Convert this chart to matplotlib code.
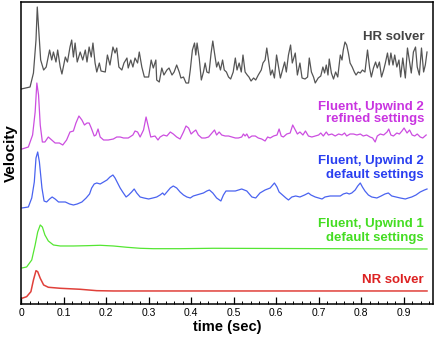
import matplotlib
matplotlib.use('Agg')
import matplotlib.pyplot as plt
from matplotlib.ticker import MultipleLocator

plt.rcParams['font.family'] = ['Liberation Sans', 'DejaVu Sans']

# HR solver (top trace)
hr_t = [0.000, 0.021, 0.029, 0.035, 0.038, 0.042, 0.046, 0.053, 0.059, 0.067,
        0.072, 0.076, 0.082, 0.086, 0.092, 0.096, 0.104, 0.109, 0.115, 0.119,
        0.123, 0.127, 0.132, 0.139, 0.145, 0.151, 0.155, 0.160, 0.165, 0.169,
        0.174, 0.178, 0.184, 0.188, 0.198, 0.203, 0.209, 0.216, 0.221, 0.225,
        0.230, 0.237, 0.242, 0.249, 0.252, 0.258, 0.263, 0.268, 0.274, 0.278,
        0.284, 0.290, 0.300, 0.306, 0.311, 0.317, 0.319, 0.325, 0.331, 0.336,
        0.343, 0.348, 0.355, 0.360, 0.366, 0.372, 0.376, 0.382, 0.388, 0.394,
        0.398, 0.403, 0.408, 0.411, 0.414, 0.419, 0.424, 0.429, 0.433, 0.437,
        0.442, 0.447, 0.451, 0.455, 0.460, 0.464, 0.469, 0.474, 0.478, 0.483,
        0.488, 0.493, 0.499, 0.504, 0.508, 0.513, 0.518, 0.522, 0.527, 0.532,
        0.536, 0.541, 0.547, 0.552, 0.558, 0.565, 0.569, 0.574, 0.578, 0.582,
        0.587, 0.591, 0.596, 0.601, 0.605, 0.610, 0.615, 0.620, 0.624, 0.629,
        0.634, 0.638, 0.645, 0.650, 0.656, 0.661, 0.668, 0.674, 0.678, 0.683,
        0.688, 0.692, 0.699, 0.705, 0.710, 0.714, 0.718, 0.722, 0.725, 0.730,
        0.735, 0.740, 0.745, 0.751, 0.755, 0.758, 0.762, 0.766, 0.770, 0.774,
        0.779, 0.784, 0.788, 0.793, 0.798, 0.803, 0.809, 0.815, 0.820, 0.824,
        0.829, 0.834, 0.838, 0.843, 0.848, 0.853, 0.857, 0.862, 0.866, 0.870,
        0.875, 0.879, 0.884, 0.889, 0.893, 0.898, 0.904, 0.909, 0.914, 0.918,
        0.923, 0.928, 0.932, 0.937, 0.942, 0.947, 0.951, 0.955]
hr_v = [215, 217, 231, 264, 297, 271, 244, 234, 237, 254,
        244, 252, 242, 254, 237, 230, 247, 242, 257, 264,
        247, 261, 242, 252, 244, 254, 242, 257, 247, 261,
        241, 232, 241, 233, 232, 249, 239, 257, 251, 256,
        237, 234, 241, 246, 236, 244, 237, 246, 241, 252,
        237, 227, 227, 244, 236, 244, 224, 222, 236, 229,
        234, 236, 229, 232, 239, 232, 226, 227, 221, 221,
        234, 254, 261, 249, 261, 246, 224, 232, 241, 232,
        231, 251, 263, 251, 237, 242, 234, 244, 234, 232,
        227, 225, 232, 246, 234, 241, 232, 249, 232, 229,
        227, 223, 226, 224, 229, 234, 241, 244, 256, 244,
        229, 234, 226, 249, 239, 226, 234, 242, 232, 249,
        259, 241, 251, 229, 241, 226, 225, 227, 246, 232,
        227, 221, 226, 228, 237, 231, 239, 229, 245, 231,
        225, 232, 227, 249, 244, 254, 262, 259, 251, 241,
        237, 232, 229, 232, 231, 234, 232, 254, 236, 227,
        236, 242, 236, 242, 227, 234, 241, 251, 239, 251,
        239, 249, 237, 244, 227, 246, 226, 256, 242, 231,
        252, 257, 237, 229, 256, 232, 239, 252]

# Fluent, Upwind 2, refined settings
ref_t = [0.002, 0.017, 0.027, 0.033, 0.037, 0.041, 0.045, 0.050, 0.056, 0.064,
         0.072, 0.080, 0.090, 0.098, 0.107, 0.115, 0.123, 0.129, 0.136, 0.143,
         0.149, 0.155, 0.160, 0.165, 0.172, 0.176, 0.181, 0.186, 0.194, 0.205,
         0.217, 0.225, 0.233, 0.241, 0.252, 0.263, 0.268, 0.274, 0.280, 0.288,
         0.294, 0.300, 0.305, 0.315, 0.322, 0.327, 0.335, 0.343, 0.351, 0.358,
         0.366, 0.374, 0.382, 0.388, 0.394, 0.400, 0.405, 0.411, 0.417, 0.425,
         0.433, 0.441, 0.449, 0.455, 0.460, 0.466, 0.472, 0.480, 0.488, 0.496,
         0.504, 0.511, 0.519, 0.523, 0.527, 0.531, 0.536, 0.543, 0.551, 0.558,
         0.566, 0.574, 0.580, 0.586, 0.594, 0.602, 0.607, 0.612, 0.617, 0.625,
         0.633, 0.639, 0.645, 0.650, 0.656, 0.663, 0.669, 0.676, 0.684, 0.692,
         0.700, 0.705, 0.711, 0.718, 0.723, 0.731, 0.739, 0.747, 0.755, 0.761,
         0.766, 0.774, 0.782, 0.790, 0.798, 0.805, 0.813, 0.821, 0.827, 0.833,
         0.838, 0.845, 0.853, 0.861, 0.865, 0.870, 0.876, 0.884, 0.890, 0.896,
         0.901, 0.908, 0.914, 0.920, 0.926, 0.932, 0.939, 0.945, 0.953]
ref_v = [155, 157, 169, 192, 221, 209, 179, 162, 162, 167,
         164, 161, 161, 159, 164, 172, 173, 181, 188, 184,
         179, 181, 181, 176, 168, 169, 175, 167, 164, 164,
         165, 167, 167, 166, 166, 169, 173, 172, 167, 174,
         187, 176, 167, 168, 164, 167, 169, 168, 172, 170,
         167, 165, 172, 178, 176, 170, 172, 174, 169, 166,
         166, 167, 171, 174, 169, 172, 169, 168, 168, 167,
         166, 166, 167, 170, 168, 170, 166, 168, 168, 166,
         165, 163, 167, 166, 168, 169, 175, 168, 167, 170,
         171, 179, 174, 170, 172, 169, 173, 168, 167, 168,
         169, 171, 168, 172, 169, 170, 168, 170, 169, 171,
         168, 170, 170, 169, 170, 168, 169, 167, 166, 162,
         168, 170, 169, 172, 175, 169, 168, 171, 170, 173,
         176, 171, 174, 169, 168, 170, 167, 166, 169]

# Fluent, Upwind 2, default settings
up2_t = [0.002, 0.017, 0.025, 0.031, 0.035, 0.039, 0.043, 0.049, 0.054, 0.060,
         0.067, 0.073, 0.080, 0.088, 0.096, 0.104, 0.114, 0.123, 0.132, 0.143,
         0.153, 0.161, 0.166, 0.172, 0.178, 0.186, 0.194, 0.202, 0.209, 0.216,
         0.221, 0.227, 0.233, 0.239, 0.247, 0.253, 0.260, 0.266, 0.272, 0.280,
         0.289, 0.300, 0.310, 0.319, 0.327, 0.333, 0.337, 0.343, 0.351, 0.358,
         0.366, 0.374, 0.382, 0.390, 0.398, 0.405, 0.413, 0.421, 0.429, 0.437,
         0.443, 0.451, 0.460, 0.470, 0.476, 0.482, 0.490, 0.504, 0.519, 0.531,
         0.543, 0.552, 0.562, 0.574, 0.586, 0.596, 0.602, 0.607, 0.615, 0.623,
         0.629, 0.637, 0.646, 0.656, 0.667, 0.676, 0.682, 0.692, 0.700, 0.708,
         0.715, 0.727, 0.739, 0.751, 0.758, 0.766, 0.772, 0.778, 0.786, 0.792,
         0.798, 0.803, 0.809, 0.817, 0.825, 0.837, 0.847, 0.856, 0.864, 0.872,
         0.882, 0.892, 0.904, 0.911, 0.919, 0.929, 0.939, 0.949, 0.955]
up2_v = [96, 97, 106, 122, 146, 152, 142, 116, 103, 102,
         105, 107, 105, 102, 102, 102, 100, 99, 100, 102,
         106, 110, 116, 120, 121, 120, 122, 124, 127, 129,
         126, 121, 116, 112, 107, 109, 112, 115, 111, 107,
         106, 105, 106, 107, 109, 111, 109, 112, 116, 118,
         116, 112, 109, 107, 106, 108, 109, 110, 111, 113,
         114, 111, 106, 103, 109, 113, 113, 113, 115, 113,
         107, 106, 111, 114, 116, 121, 117, 112, 109, 106,
         104, 107, 108, 107, 109, 111, 109, 107, 106, 105,
         107, 108, 108, 108, 110, 111, 110, 111, 114, 118,
         121, 117, 113, 109, 107, 106, 108, 110, 111, 108,
         107, 106, 105, 106, 107, 109, 112, 114, 115]

# Fluent, Upwind 1, default settings
up1_t = [0.002, 0.013, 0.025, 0.033, 0.039, 0.045, 0.050, 0.056, 0.064, 0.076,
         0.092, 0.123, 0.155, 0.186, 0.217, 0.249, 0.280, 0.311, 0.374, 0.452,
         0.600, 0.800, 0.955]
up1_v = [36, 37, 44, 59, 72, 79, 77, 69, 63, 59,
         58, 58, 58.3, 58.7, 58, 56.7, 55.7, 55.3, 55.3, 55.7,
         55.5, 55.2, 55]

# NR solver
nr_t = [0.002, 0.013, 0.023, 0.029, 0.035, 0.039, 0.045, 0.053, 0.064, 0.092,
        0.139, 0.178, 0.217, 0.468, 0.955]
nr_v = [5.7, 7.3, 12.3, 24, 33.3, 32.3, 25.7, 19, 16.7, 15.7,
        14.7, 13.3, 13, 13, 13]

fig = plt.figure(figsize=(4.4, 3.37), dpi=100)
ax = fig.add_axes([0.048, 0.098, 0.936, 0.896])

ax.plot(hr_t, hr_v, color='#555555', lw=0.9)
ax.plot(ref_t, ref_v, color='#cc4ee0', lw=0.9)
ax.plot(up2_t, up2_v, color='#4a63f0', lw=0.9)
ax.plot(up1_t, up1_v, color='#55e633', lw=0.9)
ax.plot(nr_t, nr_v, color='#e0403a', lw=1.1)

# labels on the right
lab = dict(ha='right', va='center', fontsize=9.5, fontweight='bold')
ax.text(0.948, 267, 'HR solver', color='#444444', **lab)
ax.text(0.948, 197, 'Fluent, Upwind 2', color='#c935e0', **lab)
ax.text(0.948, 185, 'refined settings', color='#c935e0', **lab)
ax.text(0.948, 143, 'Fluent, Upwind 2', color='#2a3ff0', **lab)
ax.text(0.948, 129, 'default settings', color='#2a3ff0', **lab)
ax.text(0.948, 80, 'Fluent, Upwind 1', color='#44dd22', **lab)
ax.text(0.948, 65.5, 'default settings', color='#44dd22', **lab)
ax.text(0.948, 24, 'NR solver', color='#dd2222', **lab)

ax.set_xlim(0, 0.969)
ax.set_ylim(0, 302)
ax.xaxis.set_major_locator(MultipleLocator(0.1))
ax.xaxis.set_minor_locator(MultipleLocator(0.02))
ax.set_xticks([0, 0.1, 0.2, 0.3, 0.4, 0.5, 0.6, 0.7, 0.8, 0.9])
ax.set_xticklabels(['0', '0.1', '0.2', '0.3', '0.4', '0.5', '0.6', '0.7', '0.8', '0.9'])
ax.tick_params(axis='x', which='major', direction='in', length=5, width=0.9,
               labelsize=7.5, pad=3)
ax.tick_params(axis='x', which='minor', direction='in', length=2.5, width=0.7)
ax.set_yticks([])
for s in ax.spines.values():
    s.set_linewidth(1.1)

ax.set_xlabel('time (sec)', fontsize=10.5, fontweight='bold', labelpad=1)
ax.set_ylabel('Velocity', fontsize=11, fontweight='bold', labelpad=2)

fig.savefig('out.png', dpi=100)
